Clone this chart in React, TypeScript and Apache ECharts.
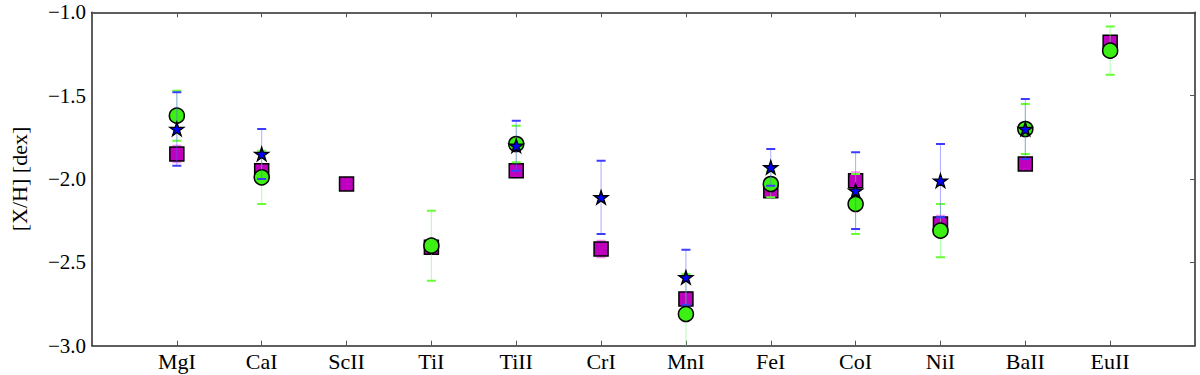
import React, { useEffect, useRef } from "react";
import * as echarts from "echarts";

const categories = ["MgI", "CaI", "ScII", "TiI", "TiII", "CrI", "MnI", "FeI", "CoI", "NiI", "BaII", "EuII"];
const squareValues = [-1.85, -1.95, -2.03, -2.41, -1.95, -2.42, -2.72, -2.07, -2.01, -2.27, -1.91, -1.18];
const squareErrors = [0.05, 0.04, 0.0, 0.03, 0.04, 0.05, 0.04, 0.04, 0.05, 0.05, 0.03, 0.03];
const circleValues = [-1.62, -1.99, null, -2.4, -1.79, null, -2.81, -2.03, -2.15, -2.31, -1.7, -1.23];
const circleErrors = [0.15, 0.16, null, 0.21, 0.11, null, 0.24, 0.08, 0.18, 0.16, 0.15, 0.145];
const starValues = [-1.7, -1.85, null, null, -1.8, -2.11, -2.59, -1.93, -2.07, -2.01, -1.7, null];
const starErrors = [0.22, 0.15, null, null, 0.15, 0.22, 0.165, 0.11, 0.23, 0.22, 0.18, null];
const yTicks = { min: -3.0, max: -1.0, interval: 0.5 };

const FONT = "'Liberation Serif', serif";

function starPath(): string {
  const pts: string[] = [];
  for (let k = 0; k < 10; k++) {
    const r = k % 2 === 0 ? 1 : 0.382;
    const a = (Math.PI / 5) * k - Math.PI / 2;
    pts.push(`${(r * Math.cos(a)).toFixed(4)} ${(r * Math.sin(a)).toFixed(4)}`);
  }
  return "path://M" + pts.join(" L") + " Z";
}

function build(values: (number | null)[], errors: (number | null)[]) {
  const pts: number[][] = [];
  values.forEach((v, i) => {
    if (v !== null) pts.push([i + 1, v, (errors[i] as number) ?? 0]);
  });
  return pts;
}

function errSeries(data: number[][], lineColor: string, capColor: string, z: number) {
  return {
    type: "custom",
    xAxisIndex: 0,
    yAxisIndex: 0,
    z,
    clip: true,
    silent: true,
    data,
    encode: { x: 0, y: 1 },
    renderItem: (params: any, api: any) => {
      const x = api.value(0);
      const y = api.value(1);
      const e = api.value(2);
      if (!e) return { type: "group", children: [] };
      const top = api.coord([x, y + e]);
      const bot = api.coord([x, y - e]);
      const hw = 4.5;
      return {
        type: "group",
        children: [
          { type: "line", shape: { x1: top[0], y1: top[1], x2: bot[0], y2: bot[1] }, style: { stroke: lineColor, lineWidth: 1 } },
          { type: "line", shape: { x1: top[0] - hw, y1: top[1], x2: top[0] + hw, y2: top[1] }, style: { stroke: capColor, lineWidth: 2 } },
          { type: "line", shape: { x1: bot[0] - hw, y1: bot[1], x2: bot[0] + hw, y2: bot[1] }, style: { stroke: capColor, lineWidth: 2 } },
        ],
      };
    },
  };
}

export default function App() {
  const ref = useRef<HTMLDivElement>(null);
  useEffect(() => {
    if (!ref.current) return;
    const chart = echarts.init(ref.current, undefined, { renderer: "svg" });
    const sq = build(squareValues, squareErrors);
    const ci = build(circleValues, circleErrors);
    const st = build(starValues, starErrors);
    const spine = { show: true, onZero: false, lineStyle: { color: "#2a2a2a", width: 1.5 } };
    const tick = { show: true, inside: true, length: 5, lineStyle: { color: "#555", width: 1 } };
    const scatterBase = { type: "scatter", silent: true, emphasis: { disabled: true } };
    chart.setOption({
      animation: false,
      backgroundColor: "#fff",
      grid: { left: 77, right: 5, top: 12.3, bottom: 29.3, containLabel: false },
      xAxis: [
        {
          type: "value",
          min: 0,
          max: 13,
          interval: 1,
          position: "bottom",
          axisLine: spine,
          axisTick: tick,
          splitLine: { show: false },
          axisLabel: {
            margin: 5,
            fontFamily: FONT,
            fontSize: 22,
            color: "#000",
            formatter: (v: number) => categories[v - 1] ?? "",
          },
        },
        {
          type: "value",
          min: 0,
          max: 13,
          interval: 1,
          position: "top",
          axisLine: spine,
          axisTick: tick,
          splitLine: { show: false },
          axisLabel: { show: false },
        },
      ],
      yAxis: [
        {
          type: "value",
          min: yTicks.min,
          max: yTicks.max,
          interval: yTicks.interval,
          position: "left",
          axisLine: spine,
          axisTick: { show: false },
          splitLine: { show: false },
          name: "[X/H] [dex]",
          nameLocation: "middle",
          nameRotate: 90,
          nameGap: 62,
          nameTextStyle: { fontFamily: FONT, fontSize: 22, color: "#000" },
          axisLabel: {
            margin: 6,
            fontFamily: FONT,
            fontSize: 21,
            color: "#000",
            formatter: (v: number) => (v < 0 ? "\u2212" : "") + Math.abs(v).toFixed(1),
          },
        },
        {
          type: "value",
          min: yTicks.min,
          max: yTicks.max,
          interval: yTicks.interval,
          position: "right",
          axisLine: spine,
          axisTick: tick,
          splitLine: { show: false },
          axisLabel: { show: false },
        },
      ],
      series: [
        errSeries(sq, "rgba(255,120,255,0.6)", "rgba(255,110,255,0.8)", 2),
        {
          ...scatterBase,
          z: 3,
          data: sq.map((p) => [p[0], p[1]]),
          symbol: "rect",
          symbolSize: 14,
          itemStyle: { color: "#bf00bf", borderColor: "#000", borderWidth: 1.5, opacity: 1 },
        },
        errSeries(ci, "rgba(110,255,110,0.55)", "#66ff33", 4),
        {
          ...scatterBase,
          z: 5,
          data: ci.map((p) => [p[0], p[1]]),
          symbol: "circle",
          symbolSize: 15,
          itemStyle: { color: "#3cf014", borderColor: "#000", borderWidth: 1.5, opacity: 1 },
        },
        errSeries(st, "rgba(90,90,255,0.5)", "#3c3cff", 6),
        {
          ...scatterBase,
          z: 7,
          data: st.map((p) => [p[0], p[1]]),
          symbol: starPath(),
          symbolSize: [14, 13.5],
          itemStyle: { color: "#0000ff", borderColor: "#000", borderWidth: 1.3, opacity: 1 },
        },
      ],
    });
    return () => chart.dispose();
  }, []);
  return <div ref={ref} style={{ position: "fixed", left: 0, top: 0, width: 1200, height: 375, background: "#fff" }} />;
}
